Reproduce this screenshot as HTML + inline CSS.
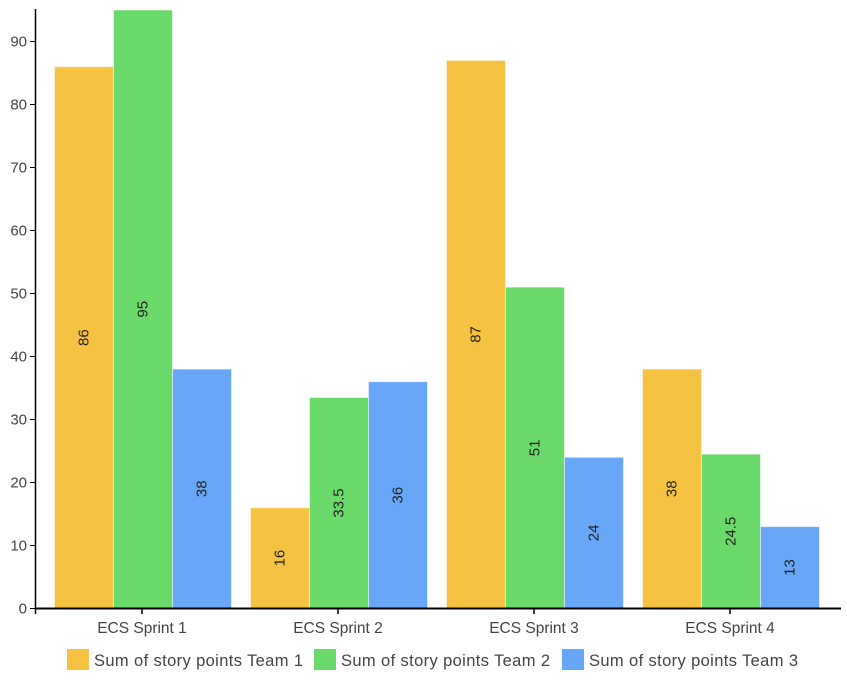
<!DOCTYPE html>
<html><head><meta charset="utf-8"><style>
body{margin:0;background:#fff;}
svg text{font-family:"Liberation Sans",sans-serif;}
</style></head><body>
<svg id="s" width="847" height="675" xmlns="http://www.w3.org/2000/svg"></svg>
<script>
var s=document.getElementById('s'),h='';
var cols=['#F5C242','#6ADB6A','#68A6F8'];
var data=[[86,95,38],[16,33.5,36],[87,51,24],[38,24.5,13]];
function Y(v){return 608.5-6.3*v;}
for(var g=0;g<4;g++){for(var i=0;i<3;i++){var v=data[g][i],x=54.5+g*196+i*59,t=Y(v);
h+='<rect x="'+x+'" y="'+t+'" width="59" height="'+(608.5-t)+'" fill="'+cols[i]+'" stroke="#fff" stroke-opacity="0.5" stroke-width="1"/>';
var cx=x+29.5,cy=(t+608.5)/2;
h+='<text x="'+cx+'" y="'+cy+'" transform="rotate(-90 '+cx+' '+cy+')" text-anchor="middle" dominant-baseline="central" font-size="15" fill="#222">'+v+'</text>';}
var c=142+g*196;
h+='<line x1="'+c+'" y1="608" x2="'+c+'" y2="614" stroke="#000" stroke-width="1.5"/>';
h+='<text x="'+c+'" y="633" text-anchor="middle" font-size="15.5" fill="#444">ECS Sprint '+(g+1)+'</text>';}
for(var k=0;k<=9;k++){var y=Y(k*10);
h+='<line x1="30" y1="'+y+'" x2="36" y2="'+y+'" stroke="#000"/>';
h+='<text x="27" y="'+(y+5)+'" text-anchor="end" font-size="15" fill="#444">'+(k*10)+'</text>';}
h+='<line x1="35.5" y1="9" x2="35.5" y2="609" stroke="#000" stroke-width="1.5"/>';
h+='<line x1="35" y1="608.5" x2="841" y2="608.5" stroke="#000" stroke-width="2"/>';
h+='<line x1="35.5" y1="608" x2="35.5" y2="614" stroke="#000" stroke-width="1.5"/>';
var lx=[67,314,562];
for(var i=0;i<3;i++){h+='<rect x="'+lx[i]+'" y="649" width="22" height="21" fill="'+cols[i]+'"/>';
h+='<text x="'+(lx[i]+27)+'" y="666" font-size="16.5" textLength="209" lengthAdjust="spacing" fill="#444">Sum of story points Team '+(i+1)+'</text>';}
s.innerHTML=h;
</script>
</body></html>
